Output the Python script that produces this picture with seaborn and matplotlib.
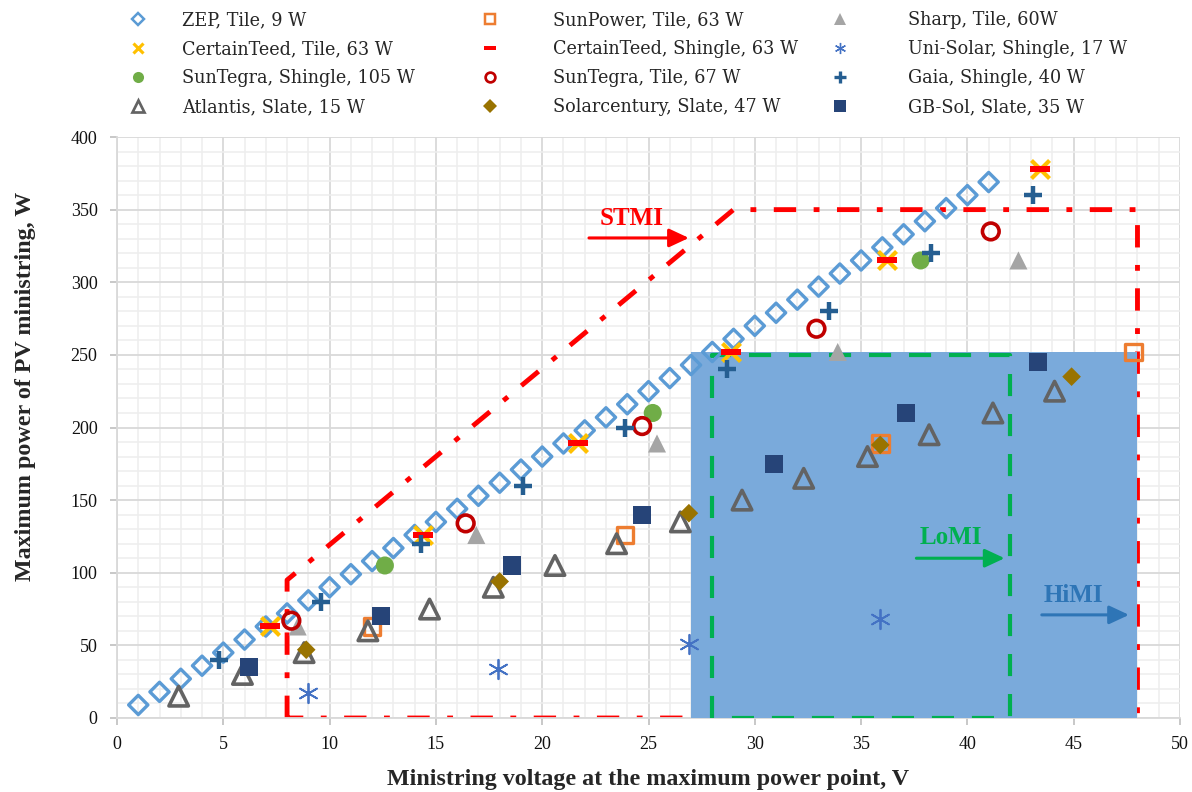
import numpy as np
import pandas as pd
import matplotlib
matplotlib.use("Agg")
import matplotlib.pyplot as plt
from matplotlib.lines import Line2D
from matplotlib.patches import Rectangle
import seaborn as sns

# ---------------- data ----------------
zep_v = [1, 2, 3, 4, 5, 6, 7, 8, 9, 10, 11, 12, 13, 14, 15, 16, 17, 18, 19, 20, 21,
         22, 23, 24, 25, 26, 27, 28, 29, 30, 31, 32, 33, 34, 35, 36, 37, 38, 39, 40, 41]
zep_p = [9, 18, 27, 36, 45, 54, 63, 72, 81, 90, 99, 108, 117, 126, 135, 144, 153, 162,
         171, 180, 189, 198, 207, 216, 225, 234, 243, 252, 261, 270, 279, 288, 297, 306,
         315, 324, 333, 342, 351, 360, 369]

sunpower_v = [12.0, 23.9, 35.9, 47.8]
sunpower_p = [63, 126, 189, 252]

sharp_v = [8.5, 16.9, 25.4, 33.9, 42.4]
sharp_p = [63, 126, 189, 252, 315]

ct_tile_v = [7.2, 14.4, 21.7, 28.9, 36.2, 43.4]
ct_tile_p = [63, 126, 189, 252, 315, 378]

ct_shingle_v = [7.2, 14.4, 21.7, 28.9, 36.2, 43.4]
ct_shingle_p = [63, 126, 189, 252, 315, 378]

unisolar_v = [9.0, 17.9, 26.9, 35.9]
unisolar_p = [17, 34, 51, 68]

suntegra_sh_v = [12.6, 25.2, 37.8]
suntegra_sh_p = [105, 210, 315]

suntegra_tile_v = [8.2, 16.4, 24.7, 32.9, 41.1]
suntegra_tile_p = [67, 134, 201, 268, 335]

gaia_v = [4.8, 9.6, 14.3, 19.1, 23.9, 28.7, 33.5, 38.3, 43.1]
gaia_p = [40, 80, 120, 160, 200, 240, 280, 320, 360]

atlantis_v = [2.9, 5.9, 8.8, 11.8, 14.7, 17.7, 20.6, 23.5, 26.5, 29.4, 32.3, 35.3,
              38.2, 41.2, 44.1]
atlantis_p = [15, 30, 45, 60, 75, 90, 105, 120, 135, 150, 165, 180, 195, 210, 225]

solarcentury_v = [8.9, 18.0, 26.9, 35.9, 44.9]
solarcentury_p = [47, 94, 141, 188, 235]

gbsol_v = [6.2, 12.4, 18.6, 24.7, 30.9, 37.1, 43.3]
gbsol_p = [35, 70, 105, 140, 175, 210, 245]

# regions
stmi_v = [8, 8, 29, 48, 48, 8]
stmi_p = [0, 95, 350, 350, 0, 0]
lomi_v = [28, 28, 42, 42, 28]
lomi_p = [0, 250, 250, 0, 0]
himi_v = [27, 48]
himi_p = [0, 252]

labels = ["ZEP, Tile, 9 W", "SunPower, Tile, 63 W", "Sharp, Tile, 60W",
          "CertainTeed, Tile, 63 W", "CertainTeed, Shingle, 63 W", "Uni-Solar, Shingle, 17 W",
          "SunTegra, Shingle, 105 W", "SunTegra, Tile, 67 W", "Gaia, Shingle, 40 W",
          "Atlantis, Slate, 15 W", "Solarcentury, Slate, 47 W", "GB-Sol, Slate, 35 W"]

# ---------------- styling ----------------
sns.set_theme(style="white")
plt.rcParams['font.family'] = ['Liberation Serif', 'DejaVu Serif']

bar_marker = [(-1, -0.3), (1, -0.3), (1, 0.3), (-1, 0.3), (-1, -0.3)]

# (data_v, data_p, marker, size(pt), face, edge, lw, legend size)
styles = [
    (zep_v, zep_p, 'D', 9.8, 'none', '#5B9BD5', 2.4, 6.5),
    (sunpower_v, sunpower_p, 's', 12.0, 'none', '#ED7D31', 2.4, 7),
    (sharp_v, sharp_p, '^', 13.0, '#A5A5A5', 'none', 0, 8),
    (ct_tile_v, ct_tile_p, 'x', 13.0, None, '#FFC000', 3.0, 7),
    (ct_shingle_v, ct_shingle_p, bar_marker, 14.4, '#FF0000', 'none', 0, 8),
    (unisolar_v, unisolar_p, (6, 2, 0), 14.0, None, '#4472C4', 1.3, 8),
    (suntegra_sh_v, suntegra_sh_p, 'o', 13.0, '#70AD47', 'none', 0, 8),
    (suntegra_tile_v, suntegra_tile_p, 'o', 12.0, 'none', '#C00000', 2.6, 7),
    (gaia_v, gaia_p, '+', 13.0, None, '#255E91', 3.2, 8),
    (atlantis_v, atlantis_p, '^', 14.0, 'none', '#636363', 2.6, 8),
    (solarcentury_v, solarcentury_p, 'D', 9.5, '#997300', 'none', 0, 7),
    (gbsol_v, gbsol_p, 's', 13.0, '#264478', 'none', 0, 8),
]

fig = plt.figure(figsize=(11.92, 7.92), dpi=100)
ax = fig.add_axes([117 / 1192, 1 - 718 / 792, (1180 - 117) / 1192, (718 - 137) / 792])

# STMI region outline
ax.plot(stmi_v, stmi_p, color='#FF0000', lw=3.5, dashes=[4.6, 3.6, 1.2, 3.6],
        dash_capstyle='butt', zorder=2)
# HiMI filled region
ax.add_patch(Rectangle((himi_v[0], himi_p[0]), himi_v[1] - himi_v[0], himi_p[1] - himi_p[0],
                       facecolor='#7AAADB', edgecolor='none', zorder=3))
# LoMI outline
ax.plot(lomi_v, lomi_p, color='#00B050', lw=3.0, dashes=[5.3, 4.3],
        dash_capstyle='butt', zorder=4)

handles = []
for i, (v, p, mk, ms, fc, ec, lw, lms) in enumerate(styles):
    kw = dict(marker=mk, s=ms ** 2, linewidth=lw, zorder=10 + i)
    if fc is None:
        kw['color'] = ec
    else:
        kw['facecolor'] = fc
        kw['edgecolor'] = ec
    sns.scatterplot(x=v, y=p, ax=ax, legend=False, **kw)
    if fc is None:
        h = Line2D([], [], ls='none', marker=mk, ms=lms, color=ec, mew=lw * 0.75)
    else:
        h = Line2D([], [], ls='none', marker=mk, ms=lms, markerfacecolor=fc,
                   markeredgecolor=ec, mew=lw * 0.75)
    handles.append(h)

# annotations
ax.text(24.2, 344, "STMI", color='#FF0000', fontsize=18, fontweight='bold',
        ha='center', va='center', zorder=30)
ax.annotate('', xy=(26.9, 330.5), xytext=(22.2, 330.5), zorder=30,
            arrowprops=dict(arrowstyle='-|>,head_length=0.6,head_width=0.28',
                            mutation_scale=20, color='#FF0000', lw=2.2,
                            shrinkA=0, shrinkB=0))
ax.text(39.2, 124, "LoMI", color='#00B050', fontsize=18, fontweight='bold',
        ha='center', va='center', zorder=30)
ax.annotate('', xy=(41.75, 110), xytext=(37.6, 110), zorder=30,
            arrowprops=dict(arrowstyle='-|>,head_length=0.6,head_width=0.28',
                            mutation_scale=20, color='#00B050', lw=2.2,
                            shrinkA=0, shrinkB=0))
ax.text(45.0, 84, "HiMI", color='#2E75B6', fontsize=18, fontweight='bold',
        ha='center', va='center', zorder=30)
ax.annotate('', xy=(47.6, 71), xytext=(43.5, 71), zorder=30,
            arrowprops=dict(arrowstyle='-|>,head_length=0.6,head_width=0.28',
                            mutation_scale=20, color='#2E75B6', lw=2.2,
                            shrinkA=0, shrinkB=0))

# axes, grid
ax.set_xlim(0, 50)
ax.set_ylim(0, 400)
ax.set_xticks(np.arange(0, 51, 5))
ax.set_xticks(np.arange(0, 51, 1), minor=True)
ax.set_yticks(np.arange(0, 401, 50))
ax.set_yticks(np.arange(0, 401, 10), minor=True)
ax.set_axisbelow(True)
ax.grid(which='major', color='#D9D9D9', lw=1.3)
ax.grid(which='minor', color='#EEEEEE', lw=1.1)
for s in ['top', 'right']:
    ax.spines[s].set_visible(False)
for s in ['left', 'bottom']:
    ax.spines[s].set_color('#D9D9D9')
    ax.spines[s].set_linewidth(1.3)
ax.tick_params(axis='both', which='major', length=5, width=1.2, color='#BFBFBF',
               labelsize=13, labelcolor='#111111')
ax.tick_params(axis='x', which='major', pad=8, bottom=True)
ax.tick_params(axis='y', which='major', pad=9, left=True)
ax.tick_params(which='minor', length=0)

ax.set_xlabel("Ministring voltage at the maximum power point, V", fontsize=17.3,
              fontweight='bold', va='center')
ax.xaxis.set_label_coords(0.5, -(780 - 718) / 581)
ax.set_ylabel("Maximum power of PV ministring, W", fontsize=17.3,
              fontweight='bold', va='center')
ax.yaxis.set_label_coords((26 - 117) / 1063, (718 - 386) / 581)

# legend: three columns, column-wise order like the reference
leg_font = {'family': ['DejaVu Serif'], 'size': 12.7}
col_idx = [[0, 3, 6, 9], [1, 4, 7, 10], [2, 5, 8, 11]]
col_left = [125.8, 477.8, 827.8]
col_pad = [1.8, 2.88, 3.16]
for idx, left, pad in zip(col_idx, col_left, col_pad):
    fig.legend([handles[j] for j in idx], [labels[j] for j in idx],
               loc='upper left', bbox_to_anchor=(left / 1192, 1 - 11 / 792),
               frameon=False, prop=leg_font, handlelength=1.4, handletextpad=pad,
               labelspacing=0.63, borderpad=0, borderaxespad=0, numpoints=1)

fig.savefig("out.png", dpi=100)
